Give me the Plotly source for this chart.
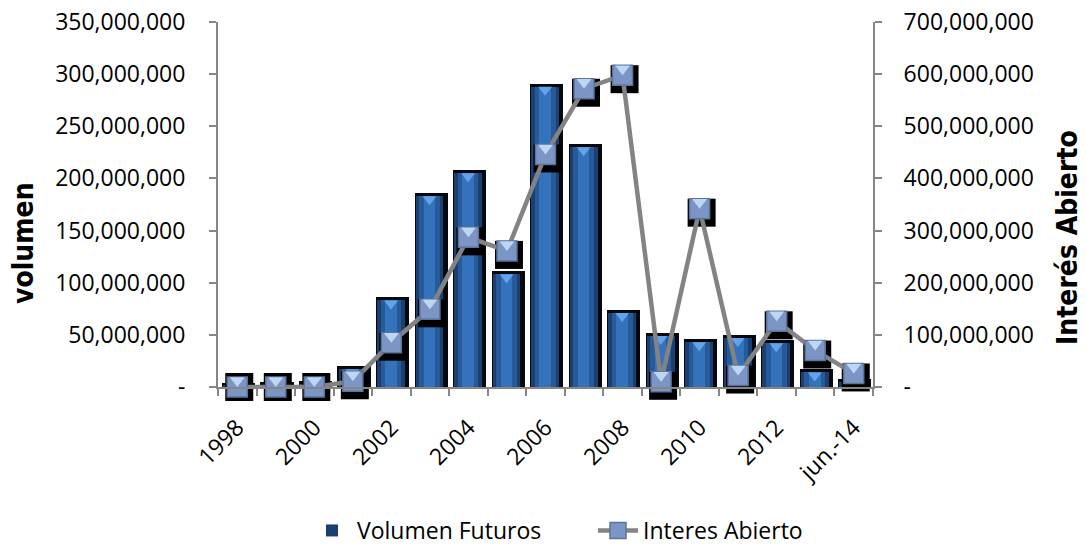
import plotly.graph_objects as go

# Categories and series
periods = ["1998", "1999", "2000", "2001", "2002", "2003", "2004", "2005", "2006",
           "2007", "2008", "2009", "2010", "2011", "2012", "2013", "jun.-14"]
volumen_futuros = [1_000_000, 2_000_000, 3_000_000, 17_000_000, 83_000_000, 183_000_000,
                   205_000_000, 108_000_000, 288_000_000, 230_000_000, 71_000_000,
                   49_000_000, 43_000_000, 47_000_000, 42_000_000, 14_000_000, 5_000_000]
interes_abierto = [0, 0, 0, 11_000_000, 85_000_000, 149_000_000, 287_000_000, 261_000_000,
                   446_000_000, 572_000_000, 598_000_000, 10_000_000, 342_000_000,
                   22_000_000, 126_000_000, 70_000_000, 26_000_000]

vol_ticks = list(range(0, 350_000_001, 50_000_000))
oi_ticks = list(range(0, 700_000_001, 100_000_000))

# Plot area geometry (pixels) used to convert small pixel nudges into data units
W, H = 1086, 553
M_L, M_R, M_T, M_B = 218, 213, 22, 166
PLOT_W = W - M_L - M_R
PLOT_H = H - M_T - M_B
VOL_MAX, OI_MAX = 350_000_000, 700_000_000
vol_px = VOL_MAX / PLOT_H
oi_px = OI_MAX / PLOT_H
cat_px = 1 / (PLOT_W / len(periods))

x = list(range(len(periods)))


def fmt(v):
    return "-" if v == 0 else f"{v:,}"


def px_x(p):
    return (p - M_L) / PLOT_W


def px_y(p):
    return (H - M_B - p) / PLOT_H


FONT = "Open Sans, Noto Sans, sans-serif"
TITLE_FONT = "DejaVu Sans Condensed, Liberation Sans, sans-serif"
AXIS_GREY = "#868686"

fig = go.Figure()

# --- Bars: dark halo, body and lighter centre stripes for a cylinder look ---
fig.add_trace(go.Bar(x=x, y=[v + 3 * vol_px for v in volumen_futuros], width=0.86, offset=-0.40,
                     marker=dict(color="#05080d", line_width=0), showlegend=False, hoverinfo="skip"))
fig.add_trace(go.Bar(x=x, y=volumen_futuros, width=0.72, offset=-0.37,
                     marker=dict(color="#1b3f70", line_width=0), name="Volumen Futuros",
                     showlegend=True, legend="legend"))
fig.add_trace(go.Bar(x=x, y=volumen_futuros, width=0.54, offset=-0.28,
                     marker=dict(color="#275a99", line_width=0), showlegend=False, hoverinfo="skip"))
fig.add_trace(go.Bar(x=x, y=volumen_futuros, width=0.30, offset=-0.16,
                     marker=dict(color="#3473bb", line_width=0), showlegend=False, hoverinfo="skip"))
# light cone cap at each bar top
fig.add_trace(go.Scatter(x=[i - 0.01 for i in x], y=[v - 3 * vol_px for v in volumen_futuros],
                         mode="markers", cliponaxis=False,
                         marker=dict(symbol="triangle-down", size=12, color="#62a3ea",
                                     line=dict(width=0)),
                         showlegend=False, hoverinfo="skip"))

# --- Open interest line on the secondary axis ---
# drop shadow behind each marker (kept inside the axis range so zero points still show it)
fig.add_trace(go.Scatter(x=[i + 2 * cat_px for i in x],
                         y=[max(v - 4 * oi_px, 0) for v in interes_abierto],
                         yaxis="y2", mode="markers", cliponaxis=False,
                         marker=dict(symbol="square", size=28, color="#000000", line=dict(width=0)),
                         showlegend=False, hoverinfo="skip"))
fig.add_trace(go.Scatter(x=x, y=interes_abierto, yaxis="y2", mode="lines+markers",
                         name="Interes Abierto", cliponaxis=False, legend="legend2",
                         line=dict(color="#838383", width=4.5),
                         marker=dict(symbol="square", size=20, color="#7b96c4",
                                     line=dict(color="#5d7399", width=1.5))))
fig.add_trace(go.Scatter(x=x, y=[v + 6.5 * oi_px for v in interes_abierto], yaxis="y2",
                         mode="markers", cliponaxis=False,
                         marker=dict(symbol="triangle-down", size=13, color="#bcd6f4",
                                     line=dict(width=0)),
                         showlegend=False, hoverinfo="skip"))

legend_common = dict(orientation="h", xanchor="left", yanchor="bottom", y=px_y(552),
                     font=dict(family=FONT, size=23), itemwidth=40, bgcolor="rgba(0,0,0,0)")

fig.update_layout(
    width=W, height=H,
    margin=dict(l=M_L, r=M_R, t=M_T, b=M_B, autoexpand=False),
    paper_bgcolor="white", plot_bgcolor="white",
    barmode="overlay", bargap=0,
    font=dict(family=FONT, size=23, color="#000000"),
    xaxis=dict(
        range=[-0.5, len(periods) - 0.5], automargin=False,
        tickmode="array", tickvals=x[::2], ticktext=periods[::2],
        tickangle=-45, ticks="", ticklabelstandoff=16,
        showline=True, linecolor=AXIS_GREY, linewidth=2,
        showgrid=False, zeroline=False,
        minor=dict(tickmode="array", tickvals=[i + 0.5 for i in range(-1, len(periods))],
                   ticks="outside", ticklen=7, tickcolor=AXIS_GREY, tickwidth=2, showgrid=False),
        tickfont=dict(family=FONT, size=23),
    ),
    yaxis=dict(
        range=[0, VOL_MAX], tickmode="array", tickvals=vol_ticks, automargin=False,
        ticktext=[fmt(v) for v in vol_ticks],
        ticks="outside", ticklen=7, tickcolor=AXIS_GREY, tickwidth=2,
        showline=True, linecolor=AXIS_GREY, linewidth=2,
        showgrid=False, zeroline=False, ticklabelstandoff=19,
        tickfont=dict(family=FONT, size=23),
    ),
    yaxis2=dict(
        range=[0, OI_MAX], overlaying="y", side="right", tickmode="array", automargin=False,
        tickvals=oi_ticks, ticktext=[fmt(v) for v in oi_ticks],
        ticks="outside", ticklen=7, tickcolor=AXIS_GREY, tickwidth=2,
        showline=True, linecolor=AXIS_GREY, linewidth=2,
        showgrid=False, zeroline=False, ticklabelstandoff=17,
        tickfont=dict(family=FONT, size=23),
    ),
    legend=dict(x=px_x(307), **legend_common),
    legend2=dict(x=px_x(593), **legend_common),
    annotations=[
        dict(text="<b>volumen</b>", textangle=-90, xref="paper", yref="paper",
             x=px_x(23), y=px_y(243),
             xanchor="center", yanchor="middle", showarrow=False,
             font=dict(family=TITLE_FONT, size=28, color="#000000")),
        dict(text="<b>Interés Abierto</b>", textangle=-90, xref="paper", yref="paper",
             x=px_x(1067), y=px_y(238),
             xanchor="center", yanchor="middle", showarrow=False,
             font=dict(family=TITLE_FONT, size=28, color="#000000")),
    ],
)

fig.write_html("out.html")
